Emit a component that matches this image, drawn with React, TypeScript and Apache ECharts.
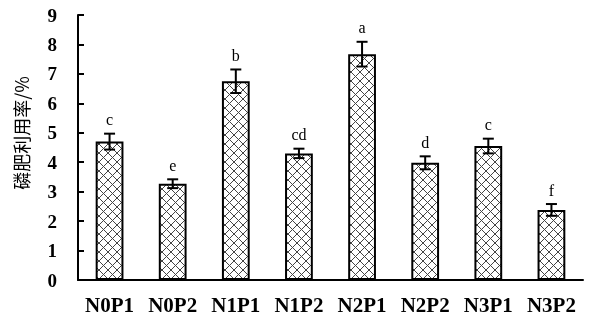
import React, { useEffect, useRef } from "react";
import * as echarts from "echarts";

const categories = ["N0P1", "N0P2", "N1P1", "N1P2", "N2P1", "N2P2", "N3P1", "N3P2"];
const values = [4.7, 3.27, 6.75, 4.3, 7.67, 3.98, 4.55, 2.38];
const errors = [0.27, 0.15, 0.4, 0.16, 0.42, 0.22, 0.25, 0.2];
const letters = ["c", "e", "b", "cd", "a", "d", "c", "f"];
const yTicks = [0, 1, 2, 3, 4, 5, 6, 7, 8, 9];
const yTitle = "磷肥利用率/%";

function makePattern(): HTMLCanvasElement {
  const c = document.createElement("canvas");
  const s = 9;
  c.width = s;
  c.height = s;
  const ctx = c.getContext("2d")!;
  ctx.fillStyle = "#ffffff";
  ctx.fillRect(0, 0, s, s);
  ctx.strokeStyle = "#444444";
  ctx.lineWidth = 1;
  ctx.beginPath();
  ctx.moveTo(0, 0);
  ctx.lineTo(s, s);
  ctx.moveTo(s, 0);
  ctx.lineTo(0, s);
  ctx.stroke();
  return c;
}

export default function App() {
  const ref = useRef<HTMLDivElement>(null);
  useEffect(() => {
    const chart = echarts.init(ref.current!, null, { renderer: "svg" });
    const pattern = makePattern();
    const font = "'Liberation Serif', 'Times New Roman', serif";
    chart.setOption({
      animation: false,
      grid: { left: 78, right: 12, top: 15, bottom: 41 },
      graphic: [
        {
          type: "text",
          x: 21,
          y: 133,
          rotation: Math.PI / 2,
          style: {
            text: yTitle,
            fill: "#000",
            font: "18px 'Noto Sans CJK SC'",
            align: "center",
            verticalAlign: "middle",
          },
        },
      ],
      xAxis: {
        type: "category",
        data: categories,
        axisLine: { lineStyle: { color: "#000", width: 2 } },
        axisTick: { inside: true, length: 6, lineStyle: { color: "#000", width: 2 } },
        axisLabel: {
          interval: 0,
          color: "#000",
          fontFamily: font,
          fontSize: 21,
          fontWeight: "bold",
          margin: 14,
        },
      },
      yAxis: {
        type: "value",
        min: yTicks[0],
        max: yTicks[yTicks.length - 1],
        interval: 1,
        axisLine: { show: true, lineStyle: { color: "#000", width: 2 } },
        axisTick: { show: true, inside: true, length: 6, lineStyle: { color: "#000", width: 2 } },
        axisLabel: { color: "#000", fontFamily: font, fontSize: 19, fontWeight: "bold", margin: 21 },
        splitLine: { show: false },
      },
      series: [
        {
          type: "bar",
          data: values,
          barWidth: "44%",
          itemStyle: {
            color: { image: pattern, repeat: "repeat" },
            borderColor: "#000",
            borderWidth: 2,
          },
        },
        {
          type: "custom",
          data: values.map((v, i) => [i, v, errors[i]]),
          renderItem: (params: any, api: any) => {
            const i = api.value(0);
            const v = api.value(1);
            const e = api.value(2);
            const top = api.coord([i, v + e]);
            const bot = api.coord([i, v - e]);
            const x = top[0];
            const hw = 5.5;
            return {
              type: "group",
              children: [
                { type: "line", shape: { x1: x, y1: top[1], x2: x, y2: bot[1] }, style: { stroke: "#000", lineWidth: 2 } },
                { type: "line", shape: { x1: x - hw, y1: top[1], x2: x + hw, y2: top[1] }, style: { stroke: "#000", lineWidth: 2 } },
                { type: "line", shape: { x1: x - hw, y1: bot[1], x2: x + hw, y2: bot[1] }, style: { stroke: "#000", lineWidth: 2 } },
                {
                  type: "text",
                  x: x,
                  y: top[1] - 6,
                  style: {
                    text: letters[params.dataIndex],
                    fill: "#000",
                    font: `16px ${font}`,
                    align: "center",
                    verticalAlign: "bottom",
                  },
                },
              ],
            };
          },
          z: 3,
        },
      ],
    });
    return () => chart.dispose();
  }, []);
  return <div ref={ref} style={{ position: "fixed", left: 0, top: 0, width: 595, height: 321 }} />;
}
